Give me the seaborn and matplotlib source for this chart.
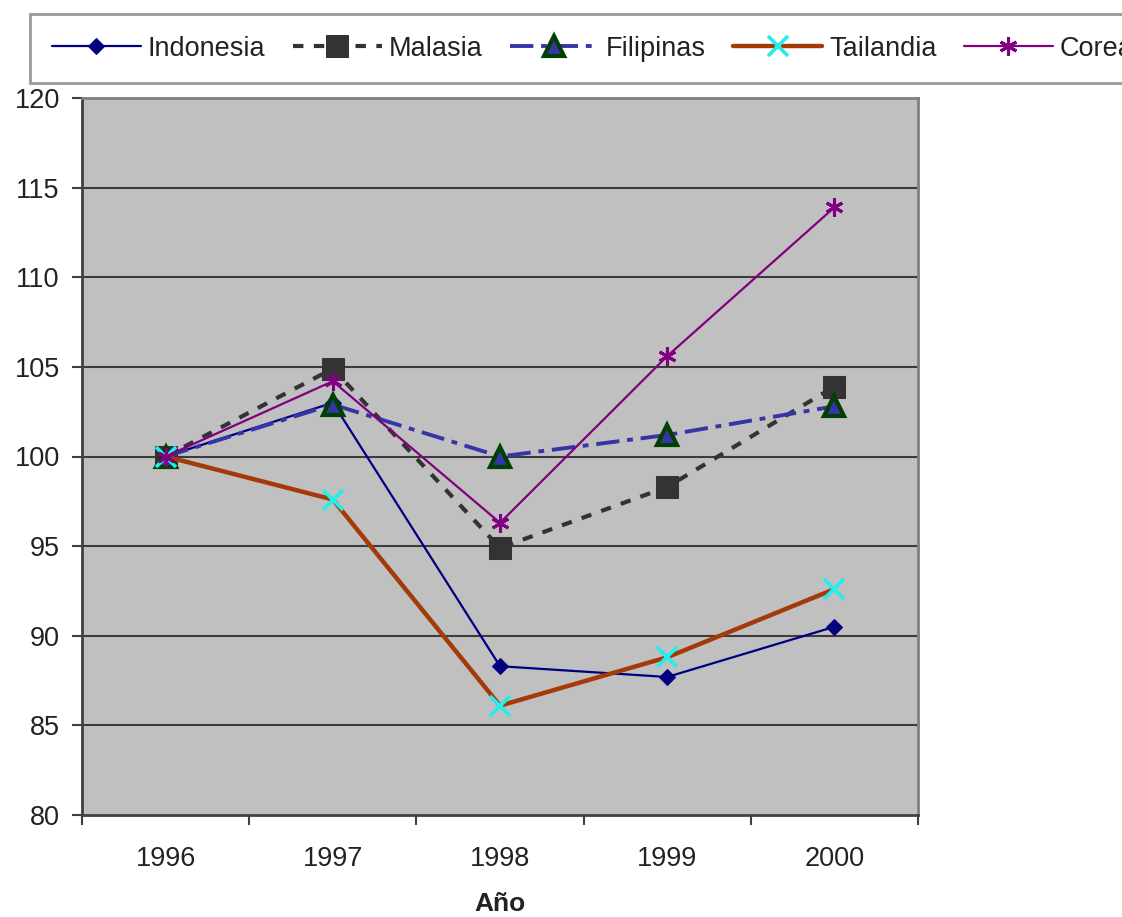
import numpy as np
import matplotlib
matplotlib.use("Agg")
import matplotlib.pyplot as plt
import seaborn as sns
from matplotlib.ticker import FixedLocator

years = ["1996", "1997", "1998", "1999", "2000"]
indonesia = [100, 103.0, 88.3, 87.7, 90.5]
malasia = [100, 104.9, 94.9, 98.3, 103.9]
filipinas = [100, 102.9, 100.0, 101.2, 102.8]
tailandia = [100, 97.6, 86.1, 88.8, 92.6]
corea = [100, 104.2, 96.3, 105.6, 113.9]

sns.set_style("white")
plt.rcParams['font.family'] = ['Liberation Sans', 'DejaVu Sans']

fig = plt.figure(figsize=(11.22, 9.17), dpi=100)
ax = fig.add_axes([82 / 1122, 102 / 917, 836 / 1122, 717 / 917])
ax.set_facecolor("#C0C0C0")

# grid lines under the data
for v in range(85, 120, 5):
    ax.axhline(v, color="#3c3c3c", lw=1.5, zorder=1)

sns.lineplot(x=years, y=indonesia, ax=ax, color="#000080", lw=1.6,
             marker="D", markersize=8.5, markerfacecolor="#000080",
             markeredgecolor="#000080", label="Indonesia", zorder=3)
sns.lineplot(x=years, y=malasia, ax=ax, color="#333333", lw=3,
             linestyle=(0, (2.5, 2.5)), marker="s", markersize=16,
             markerfacecolor="#333333", markeredgecolor="#333333",
             label="Malasia", zorder=3)
sns.lineplot(x=years, y=filipinas, ax=ax, color="#3535A8", lw=2.8,
             linestyle=(0, (6, 2, 1.5, 2)), marker="^", markersize=14,
             markerfacecolor="#3535A8", markeredgecolor="#004000",
             markeredgewidth=3, label="Filipinas", zorder=3)
sns.lineplot(x=years, y=tailandia, ax=ax, color="#A33A08", lw=3.2,
             marker="x", markersize=15, markeredgecolor="#22EEEE",
             markeredgewidth=2.6, label="Tailandia", zorder=3)
sns.lineplot(x=years, y=corea, ax=ax, color="#800080", lw=1.6,
             marker=(6, 2, 0), markersize=13, markeredgecolor="#800080",
             markeredgewidth=2.2, label="Corea", zorder=4)

ax.set_xlim(-0.5, 4.5)
ax.set_ylim(80, 120)
ax.set_yticks(range(80, 121, 5))
ax.xaxis.set_minor_locator(FixedLocator(np.arange(-0.5, 4.6, 1.0)))
ax.tick_params(axis="x", which="major", length=0, pad=22, labelsize=19.5,
               labelcolor="#222222")
ax.tick_params(axis="x", which="minor", length=7, width=1.5,
               color="#404040", direction="out", bottom=True)
ax.tick_params(axis="y", length=7, width=1.5, color="#404040",
               direction="out", left=True, pad=9, labelsize=19.5,
               labelcolor="#222222")
ax.grid(False)

for s in ["top", "right"]:
    ax.spines[s].set_color("#808080")
    ax.spines[s].set_linewidth(2)
for s in ["left", "bottom"]:
    ax.spines[s].set_color("#404040")
    ax.spines[s].set_linewidth(2)

ax.set_xlabel("Año", fontsize=19, fontweight="bold", color="#222222")
ax.xaxis.set_label_coords(0.5, -0.108)
ax.set_ylabel("")

handles, labels = ax.get_legend_handles_labels()
ax.get_legend().remove()
leg = fig.legend(handles, labels, loc="upper left",
                 bbox_to_anchor=(30 / 1122, 1 - 14 / 917), ncol=5,
                 fontsize=19.5, handlelength=3.3, handletextpad=0.25,
                 columnspacing=1.0, borderpad=0.8, borderaxespad=0,
                 fancybox=False, frameon=True)
leg.get_frame().set_edgecolor("#808080")
leg.get_frame().set_linewidth(2)
for t in leg.get_texts():
    t.set_color("#222222")

fig.savefig("out.png", dpi=100, facecolor="white")
